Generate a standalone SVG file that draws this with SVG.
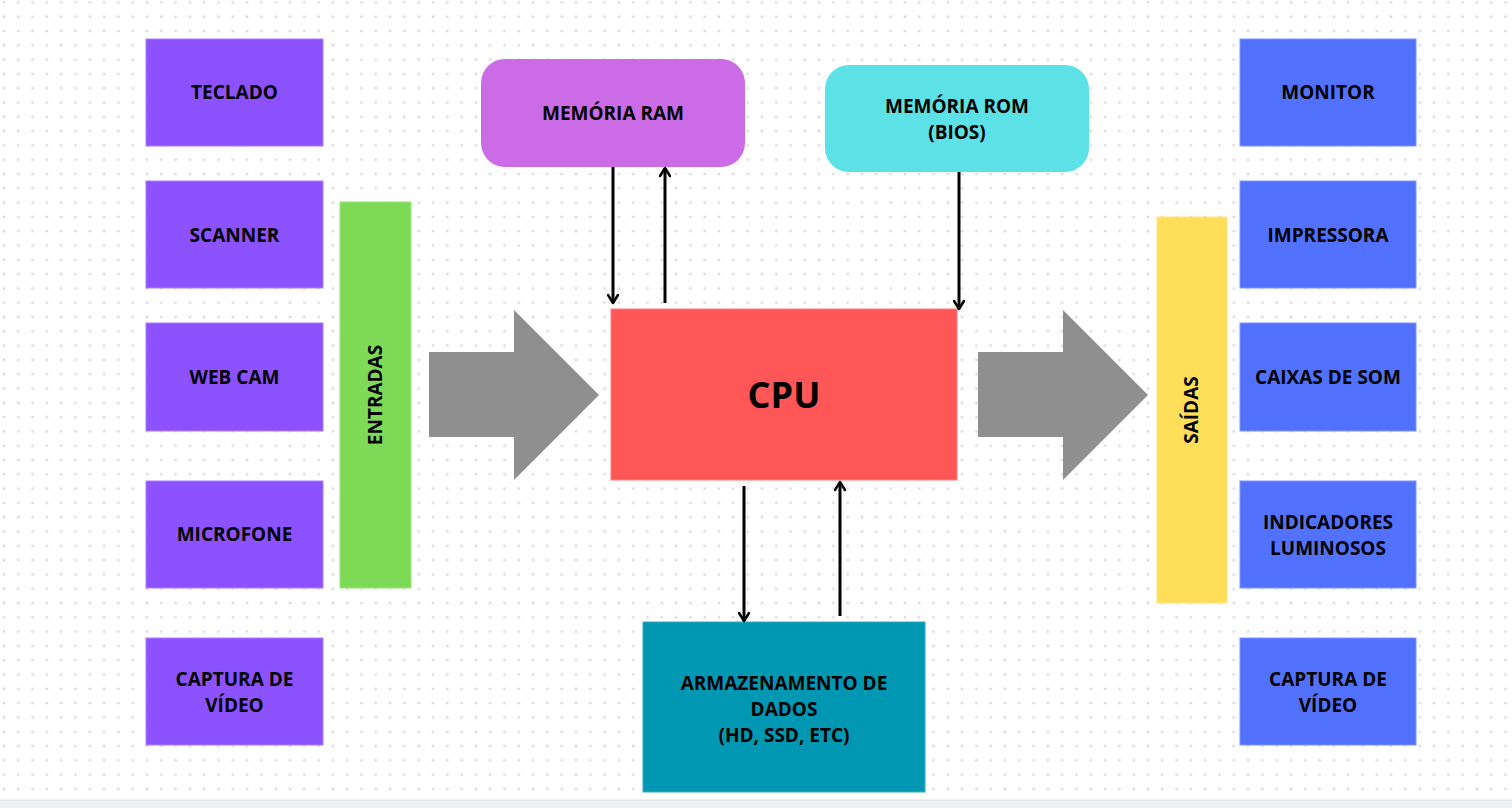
<svg xmlns="http://www.w3.org/2000/svg" width="1512" height="808" viewBox="0 0 1512 808">
<style>
.lbl{font-family:"Open Sans","Liberation Sans",sans-serif;font-weight:700;font-size:19px;fill:#000;text-anchor:middle}
.in{fill:#8c52ff;stroke:#a97fff;stroke-width:1}
.out{fill:#5271ff;stroke:#7d93ff;stroke-width:1}
.con{stroke:#000;stroke-width:3;fill:none;marker-end:url(#ah)}
</style>
<defs>
<pattern id="dots" width="14.3" height="14.3" patternUnits="userSpaceOnUse" x="4" y="2.4">
<path d="M-1.5 0H1.5M0 -1.5V1.5" stroke="#cfd2dc" stroke-width="1"/>
<path d="M12.8 0H15.8M14.3 -1.5V1.5M-1.5 14.3H1.5M0 12.8V15.8M12.8 14.3H15.8M14.3 12.8V15.8" stroke="#cfd2dc" stroke-width="1"/>
</pattern>
<marker id="ah" viewBox="0 0 12 12" refX="10" refY="6" markerWidth="4" markerHeight="4" orient="auto" markerUnits="strokeWidth">
<path d="M2 1L10 6L2 11" fill="none" stroke="#000" stroke-width="2.5" stroke-linecap="round" stroke-linejoin="round"/>
</marker>
</defs>
<rect width="1512" height="808" fill="#fff"/>
<rect width="1512" height="800" fill="url(#dots)"/>
<rect y="800" width="1512" height="8" fill="#eef0f4"/>
<line x1="0" y1="800" x2="1512" y2="800" stroke="#dcdfe5" stroke-width="1"/>

<g id="teclado"><rect class="in" x="146" y="39" width="177" height="107"/><text class="lbl" x="234.5" y="99">TECLADO</text></g>
<g id="scanner"><rect class="in" x="146" y="181" width="177" height="107"/><text class="lbl" x="234.5" y="242">SCANNER</text></g>
<g id="webcam"><rect class="in" x="146" y="323" width="177" height="108"/><text class="lbl" x="234.5" y="384">WEB CAM</text></g>
<g id="microfone"><rect class="in" x="146" y="481" width="177" height="107"/><text class="lbl" x="234.5" y="541">MICROFONE</text></g>
<g id="captura-in"><rect class="in" x="146" y="638" width="177" height="107"/><text class="lbl" x="234.5" y="686">CAPTURA DE</text><text class="lbl" x="234.5" y="712">VÍDEO</text></g>

<g id="entradas"><rect x="340" y="202" width="71" height="386" fill="#7ed957" stroke="#9be47c" stroke-width="1"/><text class="lbl" transform="translate(382 395) rotate(-90)">ENTRADAS</text></g>

<g id="seta-entrada"><path d="M429 352H514V310L599 395L514 480V437H429Z" fill="#8f8f8f"/></g>

<g id="cpu"><rect x="611" y="309" width="346" height="171" fill="#ff5757" stroke="#ff7d7d" stroke-width="1"/><text class="lbl" x="784" y="408" style="font-size:36px">CPU</text></g>

<g id="ram"><rect x="481" y="59" width="264" height="108" rx="24" fill="#cb6ce6"/><text class="lbl" x="613" y="120">MEMÓRIA RAM</text></g>
<g id="rom"><rect x="825" y="65" width="264" height="107" rx="24" fill="#5ce1e6"/><text class="lbl" x="957" y="113">MEMÓRIA ROM</text><text class="lbl" x="957" y="139">(BIOS)</text></g>

<g id="armazenamento"><rect x="643" y="622" width="282" height="170" fill="#0097b2" stroke="#33acc1" stroke-width="1"/><text class="lbl" x="784" y="690">ARMAZENAMENTO DE</text><text class="lbl" x="784" y="716">DADOS</text><text class="lbl" x="784" y="742">(HD, SSD, ETC)</text></g>

<g id="seta-saida"><path d="M978 352H1063V310L1148 395L1063 480V437H978Z" fill="#8f8f8f"/></g>

<g id="saidas"><rect x="1157" y="217" width="70" height="386" fill="#ffde59" stroke="#ffe680" stroke-width="1"/><text class="lbl" transform="translate(1198 410) rotate(-90)">SAÍDAS</text></g>

<g id="monitor"><rect class="out" x="1240" y="39" width="176" height="107"/><text class="lbl" x="1328" y="99">MONITOR</text></g>
<g id="impressora"><rect class="out" x="1240" y="181" width="176" height="107"/><text class="lbl" x="1328" y="242">IMPRESSORA</text></g>
<g id="caixas"><rect class="out" x="1240" y="323" width="176" height="108"/><text class="lbl" x="1328" y="384">CAIXAS DE SOM</text></g>
<g id="indicadores"><rect class="out" x="1240" y="481" width="176" height="107"/><text class="lbl" x="1328" y="529">INDICADORES</text><text class="lbl" x="1328" y="555">LUMINOSOS</text></g>
<g id="captura-out"><rect class="out" x="1240" y="638" width="176" height="107"/><text class="lbl" x="1328" y="686">CAPTURA DE</text><text class="lbl" x="1328" y="712">VÍDEO</text></g>

<g id="conectores">
<line class="con" x1="613" y1="167" x2="613" y2="303"/>
<line class="con" x1="665" y1="303" x2="665" y2="168"/>
<line class="con" x1="959" y1="172" x2="959" y2="309"/>
<line class="con" x1="744" y1="486" x2="744" y2="621"/>
<line class="con" x1="840" y1="616" x2="840" y2="482"/>
</g>
</svg>
